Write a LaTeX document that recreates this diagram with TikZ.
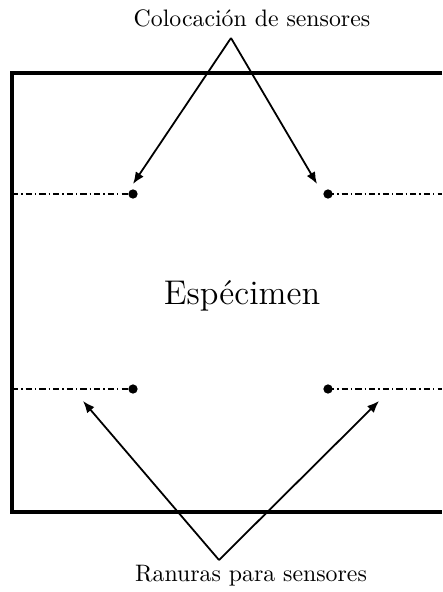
\documentclass[tikz,border=0pt]{standalone}
\usetikzlibrary{arrows.meta}
\begin{document}
\begin{tikzpicture}[x=0.42pt,y=-0.42pt,
  specimen/.style={line width=1.3pt},
  slot/.style={line width=0.55pt,dash pattern={on 2.6pt off 1.3pt on 0.55pt off 1.3pt}},
  sensor/.style={circle,fill=black,inner sep=0pt,minimum size=3.9pt},
  pointer/.style={line width=0.75pt,-{Latex[length=5pt,width=4pt]}},
  lbl/.style={inner sep=0pt,font=\normalsize}]
\useasboundingbox (0,0) rectangle (442,592);
% specimen outline
\coordinate (tr) at (442,73);
\coordinate (tl) at (12,73);
\coordinate (bl) at (12,512);
\coordinate (br) at (442,512);
\draw[specimen] (tr) -- (tl) -- (bl) -- (br);
% sensors
\node[sensor] (s1) at (133,194) {};
\node[sensor] (s2) at (328,194) {};
\node[sensor] (s3) at (133,389) {};
\node[sensor] (s4) at (328,389) {};
\coordinate (l1) at (12,194);
\coordinate (r1) at (442,194);
\coordinate (l2) at (12,389);
\coordinate (r2) at (442,389);
\draw[slot] (l1) -- (s1.center);
\draw[slot] (s2.center) -- (r1);
\draw[slot] (l2) -- (s3.center);
\draw[slot] (s4.center) -- (r2);
% title
\node[font=\Large,inner sep=0pt] (spec) at (242,296) {Espécimen};
% labels
\node[lbl] (top) at (252,18) {Colocación de sensores};
\node[lbl] (bot) at (251,576) {Ranuras para sensores};
\coordinate (ta) at (231,38);
\coordinate (ba) at (219,560);
\coordinate (t1) at (133,184);
\coordinate (t2) at (317,184);
\coordinate (b1) at (83,401);
\coordinate (b2) at (379,401);
\draw[pointer] (ta) -- (t1);
\draw[pointer] (ta) -- (t2);
\draw[pointer] (ba) -- (b1);
\draw[pointer] (ba) -- (b2);
\end{tikzpicture}
\end{document}
